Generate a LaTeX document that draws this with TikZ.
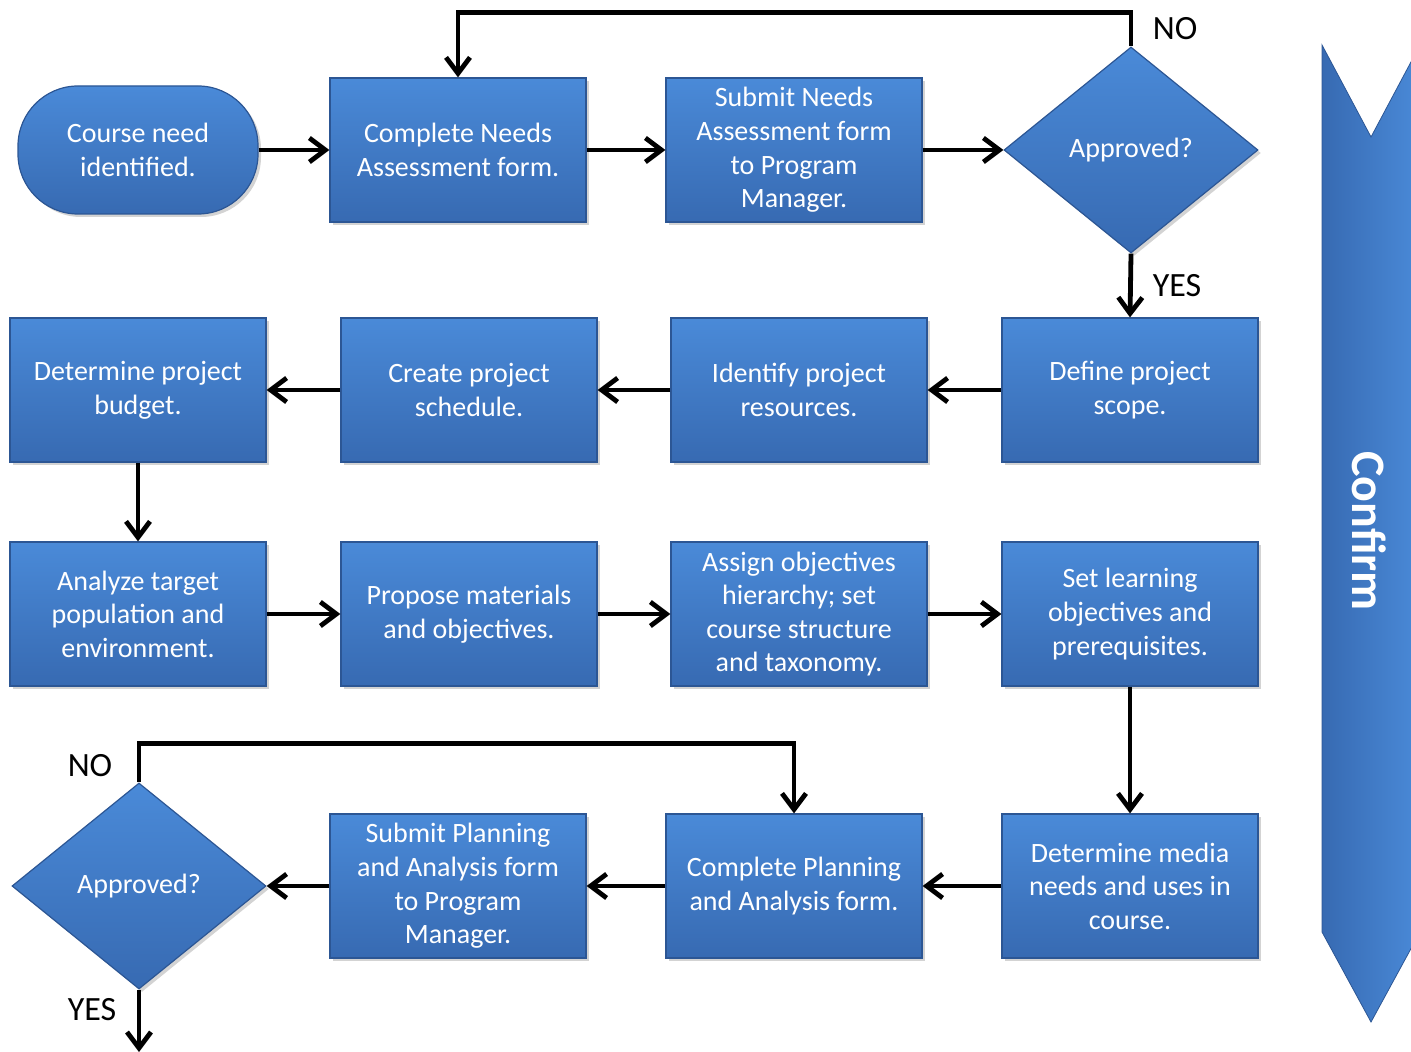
\documentclass[tikz,border=0pt]{standalone}
\usepackage{fontspec}
\setmainfont{Carlito}
\usetikzlibrary{shapes.geometric,arrows.meta,shadows}
\definecolor{boxtop}{RGB}{74,138,216}
\definecolor{boxbot}{RGB}{55,106,178}
\definecolor{boxline}{RGB}{44,86,148}
\tikzset{
  stepbox/.style={rectangle,top color=boxtop,bottom color=boxbot,draw=boxline,line width=0.6pt,
    minimum width=128pt,minimum height=72pt,inner sep=2pt,align=center,text=white,
    font=\fontsize{14}{16.8}\selectfont,drop shadow={shadow xshift=1.5pt,shadow yshift=-1.5pt,opacity=0.35}},
  terminal/.style={stepbox,rounded corners=30pt,minimum width=120pt,minimum height=64pt},
  decision/.style={stepbox,diamond,minimum width=127pt,minimum height=103pt,inner sep=0pt},
  flow/.style={line width=2.4pt,black},
  answer/.style={font=\fontsize{17}{20}\selectfont,text=black}
}
\begin{document}
\begin{tikzpicture}[x=0.5pt,y=-0.5pt,>={Straight Barb[length=8pt,width=12pt]}]
\useasboundingbox (0,0) rectangle (1411,1052);
% confirm chevron
\shade[left color=boxbot,right color=boxtop,draw=boxline,line width=0.4pt]
  (1322,45) -- (1371,137) -- (1420,45) -- (1420,932) -- (1371,1022) -- (1322,932) -- cycle;
\node[rotate=-90,text=white,font=\fontsize{24}{28}\bfseries] (confirm) at (1369,531) {Confirm};
% row 1
\node[terminal] (need) at (138,150) {Course need\\identified.};
\node[stepbox] (cna) at (458,150) {Complete Needs\\Assessment form.};
\node[stepbox] (sna) at (794,150) {Submit Needs\\Assessment form\\to Program\\Manager.};
\node[decision] (ok1) at (1131,150) {Approved?};
% row 2
\node[stepbox] (scope) at (1130,390) {Define project\\scope.};
\node[stepbox] (res) at (799,390) {Identify project\\resources.};
\node[stepbox] (sched) at (469,390) {Create project\\schedule.};
\node[stepbox] (budget) at (138,390) {Determine project\\budget.};
% row 3
\node[stepbox] (target) at (138,614) {Analyze target\\population and\\environment.};
\node[stepbox] (mat) at (469,614) {Propose materials\\and objectives.};
\node[stepbox] (hier) at (799,614) {Assign objectives\\hierarchy; set\\course structure\\and taxonomy.};
\node[stepbox] (learn) at (1130,614) {Set learning\\objectives and\\prerequisites.};
% row 4
\node[stepbox] (media) at (1130,886) {Determine media\\needs and uses in\\course.};
\node[stepbox] (cpa) at (794,886) {Complete Planning\\and Analysis form.};
\node[stepbox] (spa) at (458,886) {Submit Planning\\and Analysis form\\to Program\\Manager.};
\node[decision] (ok2) at (139,886) {Approved?};
\coordinate (exit) at (139,1052);
% answers
\node[answer] (no1) at (1175,29) {NO};
\node[answer] (yes1) at (1177,286) {YES};
\node[answer] (no2) at (90,766) {NO};
\node[answer] (yes2) at (92,1010) {YES};
% connectors
\draw[flow,->] (need) -- (cna);
\draw[flow,->] (cna) -- (sna);
\draw[flow,->] (sna) -- (ok1);
\draw[flow,->] (ok1.north) -- ++(0,-34) -| (cna.north);
\draw[flow,->] (ok1.south) -- (scope.north);
\draw[flow,->] (scope) -- (res);
\draw[flow,->] (res) -- (sched);
\draw[flow,->] (sched) -- (budget);
\draw[flow,->] (budget) -- (target);
\draw[flow,->] (target) -- (mat);
\draw[flow,->] (mat) -- (hier);
\draw[flow,->] (hier) -- (learn);
\draw[flow,->] (learn) -- (media);
\draw[flow,->] (media) -- (cpa);
\draw[flow,->] (cpa) -- (spa);
\draw[flow,->] (spa) -- (ok2);
\draw[flow,->] (ok2.north) -- ++(0,-39) -| (cpa.north);
\draw[flow,->] (ok2.south) -- (exit);
\end{tikzpicture}
\end{document}
